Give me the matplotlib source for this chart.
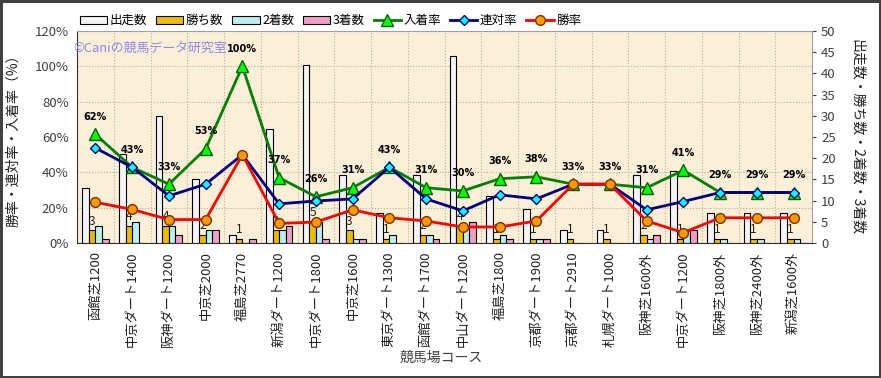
import matplotlib
matplotlib.use("Agg")
import matplotlib.pyplot as plt
import numpy as np
from matplotlib.ticker import MultipleLocator, FixedLocator, FuncFormatter

plt.rcParams['font.family'] = ['Noto Sans CJK JP', 'DejaVu Sans']

courses = ['函館芝1200', '中京ダート1400', '阪神ダート1200', '中京芝2000', '福島芝2770',
           '新潟ダート1200', '中京ダート1800', '中京芝1600', '東京ダート1300', '函館ダート1700',
           '中山ダート1200', '福島芝1800', '京都ダート1900', '京都ダート2910', '札幌ダート1000',
           '阪神芝1600外', '中京ダート1200', '阪神芝1800外', '阪神芝2400外', '新潟芝1600外']

starts = [13, 21, 30, 15, 2, 27, 42, 16, 7, 16, 44, 11, 8, 3, 3, 16, 17, 7, 7, 7]
wins = [3, 4, 4, 2, 1, 3, 5, 3, 1, 2, 4, 1, 1, 1, 1, 2, 1, 1, 1, 1]
seconds = [4, 5, 4, 3, 0, 3, 5, 1, 2, 2, 4, 2, 1, 0, 0, 1, 3, 1, 1, 1]
thirds = [1, 0, 2, 3, 1, 4, 1, 1, 0, 1, 5, 1, 1, 0, 0, 2, 3, 0, 0, 0]

# rates in percent
win_rate = [23.1, 19.0, 13.3, 13.3, 50.0, 11.1, 11.9, 18.8, 14.3, 12.5,
            9.1, 9.1, 12.5, 33.3, 33.3, 12.5, 5.9, 14.3, 14.3, 14.3]
rentai_rate = [53.8, 42.9, 26.7, 33.3, 50.0, 22.2, 23.8, 25.0, 42.9, 25.0,
               18.2, 27.3, 25.0, 33.3, 33.3, 18.8, 23.5, 28.6, 28.6, 28.6]
place_rate = [61.5, 42.9, 33.3, 53.3, 100.0, 37.0, 26.2, 31.3, 42.9, 31.3,
              29.5, 36.4, 37.5, 33.3, 33.3, 31.3, 41.2, 28.6, 28.6, 28.6]

x = np.arange(len(courses))
w = 0.18

fig = plt.figure(figsize=(8.81, 3.78), dpi=100)
fig.patch.set_facecolor('white')
fig.patch.set_edgecolor('#404040')
fig.patch.set_linewidth(2.5)

ax = fig.add_axes([0.0874, 0.357, 0.8343, 0.561])
ax2 = ax.twinx()
ax.set_facecolor('#FBEFD7')

# bars (count axis, shown on the right)
ax.bar(x - 1.5 * w, starts, w, color='#F4F4F4', edgecolor='black', linewidth=0.8, zorder=3, label='出走数')
ax.bar(x - 0.5 * w, wins, w, color='#EEBB00', edgecolor='black', linewidth=0.8, zorder=3, label='勝ち数')
ax.bar(x + 0.5 * w, seconds, w, color='#B8F0EE', edgecolor='black', linewidth=0.8, zorder=3, label='2着数')
ax.bar(x + 1.5 * w, thirds, w, color='#F29CC8', edgecolor='black', linewidth=0.8, zorder=3, label='3着数')

for xi, v in zip(x, wins):
    ax.annotate(str(v), (xi - 0.5 * w, v), xytext=(0, 2), textcoords='offset points',
                ha='center', va='bottom', fontsize=8.5, color='#202020', zorder=4)

ax.set_xlim(-0.5, len(courses) - 0.5)
ax.set_ylim(0, 50)
ax.yaxis.tick_right()
ax.yaxis.set_label_position('right')
ax.yaxis.set_major_locator(MultipleLocator(5))
ax.set_ylabel('出走数・勝ち数・2着数・3着数', rotation=270, labelpad=20, fontsize=10, color='#202020')
ax.tick_params(axis='y', labelsize=9.5, colors='#404040', length=3, direction='out')

# grid: horizontal at percent ticks, vertical at category boundaries
ax.yaxis.set_minor_locator(FixedLocator(np.linspace(0, 50, 7)))
ax.xaxis.set_minor_locator(FixedLocator(np.arange(0.5, len(courses) - 0.5, 1)))
ax.grid(which='minor', color='#B8B0A0', linestyle=':', linewidth=0.8, zorder=0)
ax.tick_params(which='minor', length=0)
ax.set_axisbelow(True)

ax.set_xticks(x)
ax.set_xticklabels(courses, rotation=90, fontsize=9.5, color='#202020')
ax.tick_params(axis='x', length=0, pad=6)
ax.set_xlabel('競馬場コース', fontsize=10, color='#404040')
ax.xaxis.label.set_va('center')
ax.xaxis.set_label_coords(0.495, -0.54)

for side in ['top', 'right']:
    ax.spines[side].set_color('#A0A0A0')
ax.spines['left'].set_color('#303030')
ax.spines['bottom'].set_color('#303030')

# rates (percent axis, shown on the left)
ax2.yaxis.tick_left()
ax2.yaxis.set_label_position('left')
ax2.set_ylim(0, 120)
ax2.yaxis.set_major_locator(MultipleLocator(20))
ax2.yaxis.set_major_formatter(FuncFormatter(lambda v, p: f'{v:.0f}%'))
ax2.tick_params(axis='y', labelsize=9.5, colors='#404040', length=0, pad=6)
ax2.set_ylabel('勝率・連対率・入着率（%）', fontsize=10, color='#202020', labelpad=10)
for s in ax2.spines.values():
    s.set_visible(False)

ax2.plot(x, place_rate, color='#008000', linewidth=2, marker='^', markersize=8,
         markerfacecolor='#00FF00', markeredgecolor='#006000', label='入着率', zorder=5)
ax2.plot(x, rentai_rate, color='#000080', linewidth=2, marker='D', markersize=5.5,
         markerfacecolor='#00FFFF', markeredgecolor='#000080', label='連対率', zorder=6)
ax2.plot(x, win_rate, color='#FF0000', linewidth=2, marker='o', markersize=7,
         markerfacecolor='#FF9900', markeredgecolor='#803000', label='勝率', zorder=7)

for xi, v in zip(x, place_rate):
    ax2.annotate(f'{v:.0f}%', (xi, v), xytext=(0, 9), textcoords='offset points',
                 ha='center', va='bottom', fontsize=7, fontweight='bold',
                 family=['DejaVu Sans'], color='black', zorder=8)

ax.text(-0.6, 46, '©Caniの競馬データ研究室', fontsize=9.3, color='#8A8AF0', va='center', zorder=9)

h1, l1 = ax.get_legend_handles_labels()
h2, l2 = ax2.get_legend_handles_labels()
fig.legend(h1 + h2, l1 + l2, ncol=7, loc='center', bbox_to_anchor=(0.375, 0.945),
           frameon=False, fontsize=9, handlelength=2.2, handleheight=0.55,
           columnspacing=0.7, handletextpad=0.2)

fig.savefig('out.png', dpi=100)
